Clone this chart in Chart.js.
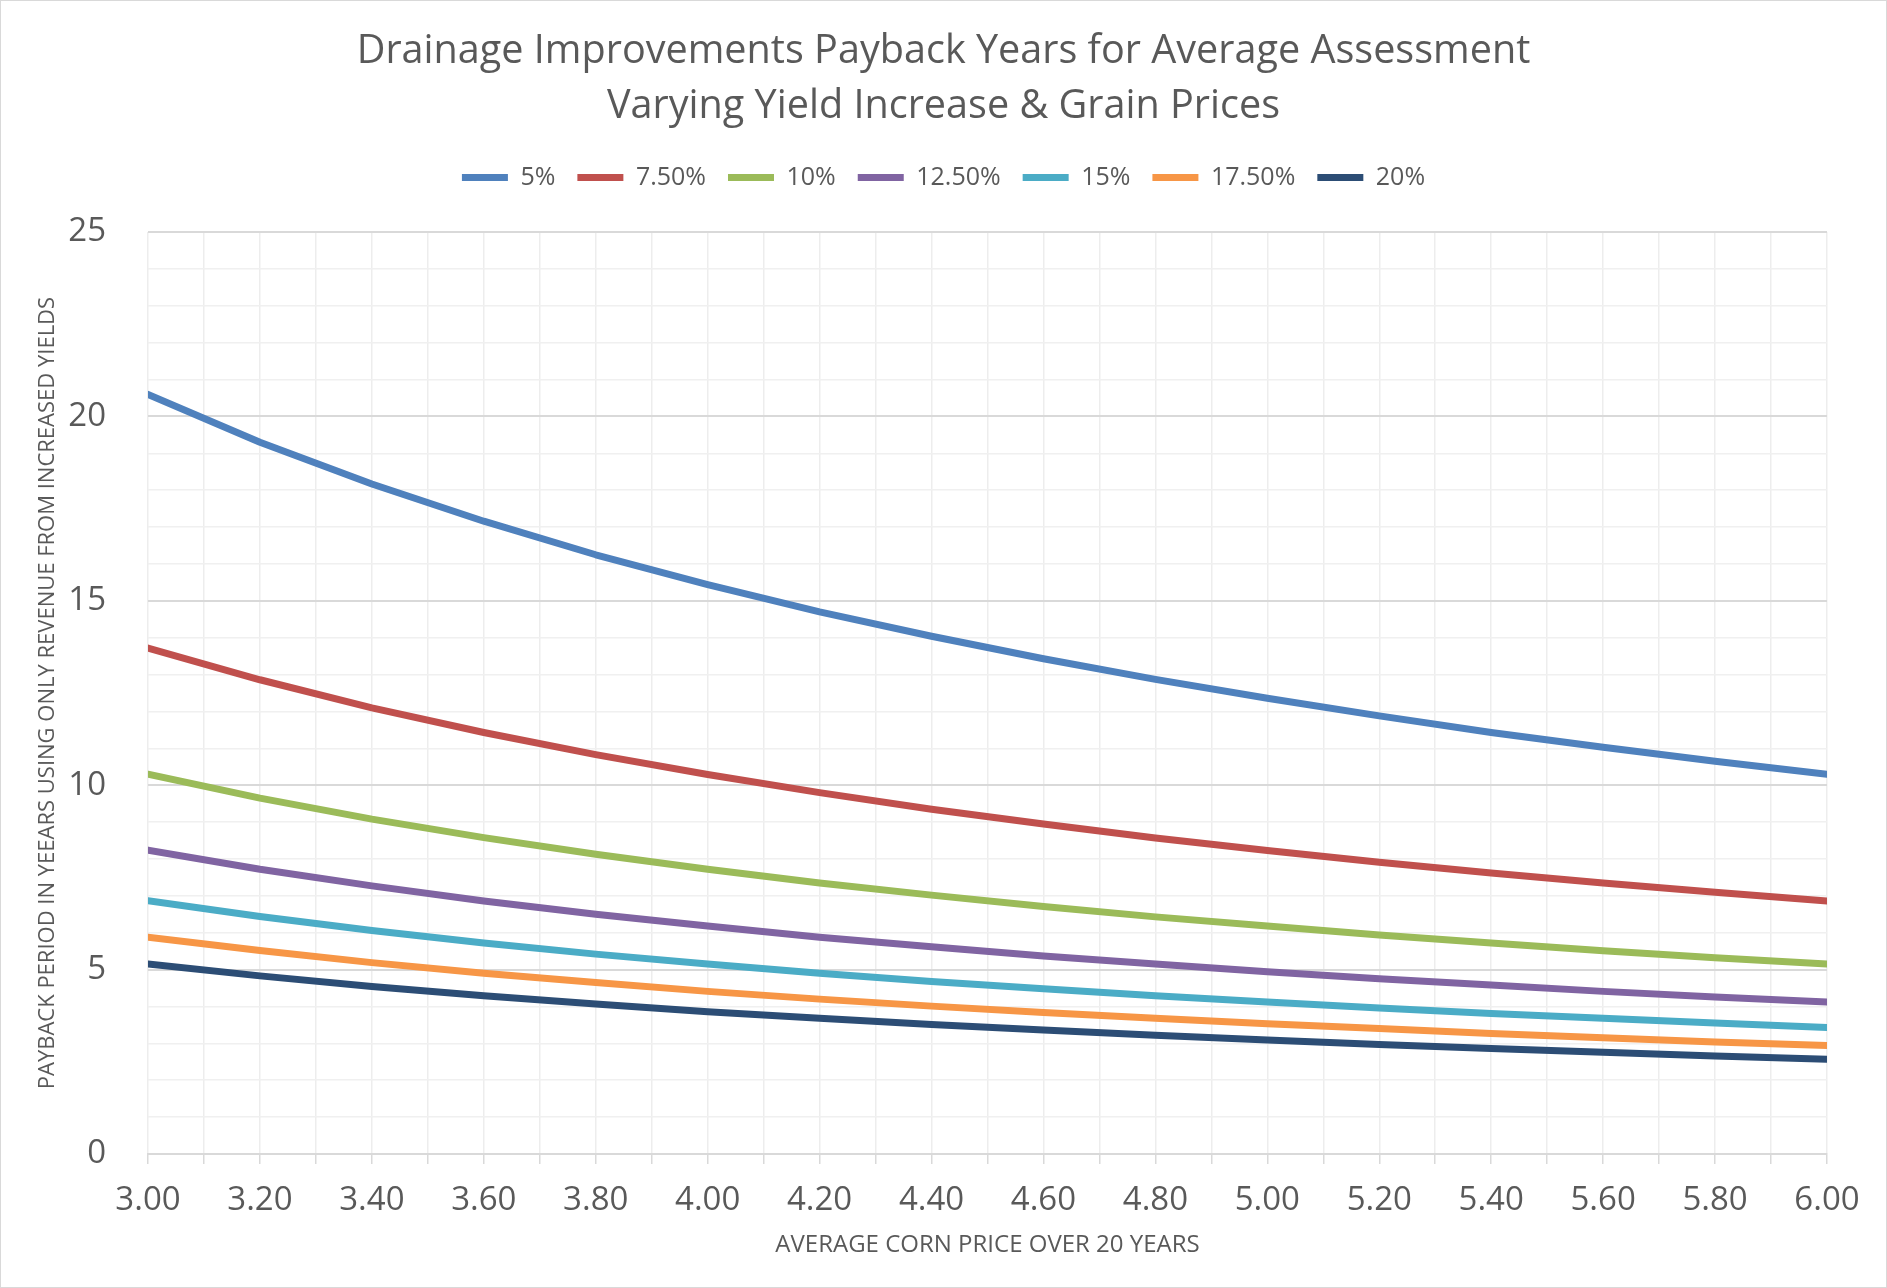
<!DOCTYPE html>
<html>
<head>
<meta charset="utf-8">
<script src="https://cdn.jsdelivr.net/npm/chart.js@4.4.1/dist/chart.umd.min.js"></script>
<style>
    html, body { margin: 0; padding: 0; background: #fff; }
    #wrap {
        width: 1887px; height: 1288px;
        box-sizing: border-box;
        border: 1px solid #d9d9d9;
        position: relative;
    }
</style>
</head>
<body>
<div id="wrap"><canvas id="payback"></canvas></div>
<script>
// Corn price (x) and payback years per yield increase
const prices = [3.0, 3.2, 3.4, 3.6, 3.8, 4.0, 4.2, 4.4, 4.6, 4.8, 5.0, 5.2, 5.4, 5.6, 5.8, 6.0];
const seriesNames = ['5%', '7.50%', '10%', '12.50%', '15%', '17.50%', '20%'];
const seriesColors = ['#4f81bd', '#c0504d', '#9bbb59', '#8064a2', '#4bacc6', '#f79646', '#2c4d75'];

const yield05 = [20.6, 19.3, 18.17, 17.16, 16.25, 15.44, 14.7, 14.04, 13.43, 12.87, 12.36, 11.88, 11.43, 11.03, 10.65, 10.3];
const yield075 = [13.72, 12.86, 12.1, 11.43, 10.83, 10.29, 9.8, 9.35, 8.95, 8.57, 8.23, 7.91, 7.62, 7.35, 7.1, 6.86];
const yield10 = [10.3, 9.65, 9.08, 8.58, 8.13, 7.72, 7.35, 7.02, 6.71, 6.43, 6.18, 5.94, 5.72, 5.51, 5.32, 5.15];
const yield125 = [8.24, 7.72, 7.27, 6.86, 6.5, 6.18, 5.88, 5.62, 5.37, 5.15, 4.94, 4.75, 4.58, 4.41, 4.26, 4.12];
const yield15 = [6.87, 6.44, 6.06, 5.72, 5.42, 5.15, 4.9, 4.68, 4.48, 4.29, 4.12, 3.96, 3.81, 3.68, 3.55, 3.43];
const yield175 = [5.88, 5.52, 5.19, 4.9, 4.65, 4.41, 4.2, 4.01, 3.84, 3.68, 3.53, 3.4, 3.27, 3.15, 3.04, 2.94];
const yield20 = [5.15, 4.83, 4.54, 4.29, 4.07, 3.86, 3.68, 3.51, 3.36, 3.22, 3.09, 2.97, 2.86, 2.76, 2.66, 2.57];

const allSeries = [yield05, yield075, yield10, yield125, yield15, yield175, yield20];

const TEXT = '#595959';
const FONT = '"Open Sans", "Noto Sans", sans-serif';

const datasets = allSeries.map((vals, i) => ({
    label: seriesNames[i],
    data: vals.map((v, j) => ({ x: prices[j], y: v })),
    borderColor: seriesColors[i],
    backgroundColor: seriesColors[i],
    borderWidth: 7,
    borderCapStyle: 'round',
    borderJoinStyle: 'round',
    pointRadius: 0,
    pointStyle: 'line',
    tension: 0
}));

// extra room between legend and plot area
const legendGap = {
    id: 'legendGap',
    beforeInit(chart) {
        const origFit = chart.legend.fit;
        chart.legend.fit = function () {
            origFit.call(this);
            this.height += 32;
        };
    }
};

new Chart(document.getElementById('payback').getContext('2d'), {
    type: 'line',
    data: { datasets },
    plugins: [legendGap],
    options: {
        responsive: true,
        maintainAspectRatio: false,
        animation: false,
        layout: { padding: { left: 34, right: 34, top: 0, bottom: 27 } },
        plugins: {
            title: {
                display: true,
                text: ['Drainage Improvements Payback Years for Average Assessment', 'Varying Yield Increase & Grain Prices'],
                color: TEXT,
                font: { family: FONT, size: 39.6, weight: 'normal', lineHeight: 1.39 },
                padding: { top: 23, bottom: 9 }
            },
            legend: {
                position: 'top',
                labels: {
                    color: TEXT,
                    font: { family: FONT, size: 25 },
                    usePointStyle: true,
                    pointStyle: 'line',
                    pointStyleWidth: 46,
                    boxHeight: 6,
                    padding: 22
                }
            },
            tooltip: { enabled: false }
        },
        scales: {
            x: {
                type: 'linear',
                min: 3,
                max: 6,
                afterFit: s => { s.height = 106; },
                border: { color: '#d9d9d9', width: 2 },
                grid: {
                    color: '#ededed',
                    lineWidth: 1.5,
                    tickColor: '#d9d9d9',
                    tickLength: 10
                },
                ticks: {
                    stepSize: 0.1,
                    autoSkip: false,
                    maxRotation: 0,
                    color: TEXT,
                    padding: 17,
                    font: { family: FONT, size: 33 },
                    callback: v => Math.round(v * 10) % 2 === 0 ? v.toFixed(2) : ''
                },
                title: {
                    display: true,
                    text: 'AVERAGE CORN PRICE OVER 20 YEARS',
                    color: TEXT,
                    font: { family: FONT, size: 24 },
                    padding: { top: 0, bottom: 0 }
                }
            },
            y: {
                min: 0,
                max: 25,
                afterFit: s => { s.width = 113; },
                border: { display: false },
                grid: {
                    drawTicks: false,
                    color: ctx => (ctx.tick && ctx.tick.value % 5 === 0) ? '#d9d9d9' : '#f0f0f0',
                    lineWidth: ctx => (ctx.tick && ctx.tick.value % 5 === 0) ? 2 : 1.5
                },
                ticks: {
                    stepSize: 1,
                    autoSkip: false,
                    color: TEXT,
                    padding: 42,
                    font: { family: FONT, size: 33 },
                    callback: v => v % 5 === 0 ? String(v) : ''
                },
                title: {
                    display: true,
                    text: 'PAYBACK PERIOD IN YEEARS USING ONLY REVENUE FROM INCREASED YIELDS',
                    color: TEXT,
                    font: { family: FONT, size: 22 },
                    padding: { top: 0, bottom: 7 }
                }
            },
            // empty spacer on the right so title and legend stay centred on the page
            yRight: {
                position: 'right',
                afterFit: s => { s.width = 25; },
                border: { display: false },
                grid: { display: false, drawOnChartArea: false },
                ticks: { display: false }
            }
        }
    }
});
</script>
</body>
</html>
